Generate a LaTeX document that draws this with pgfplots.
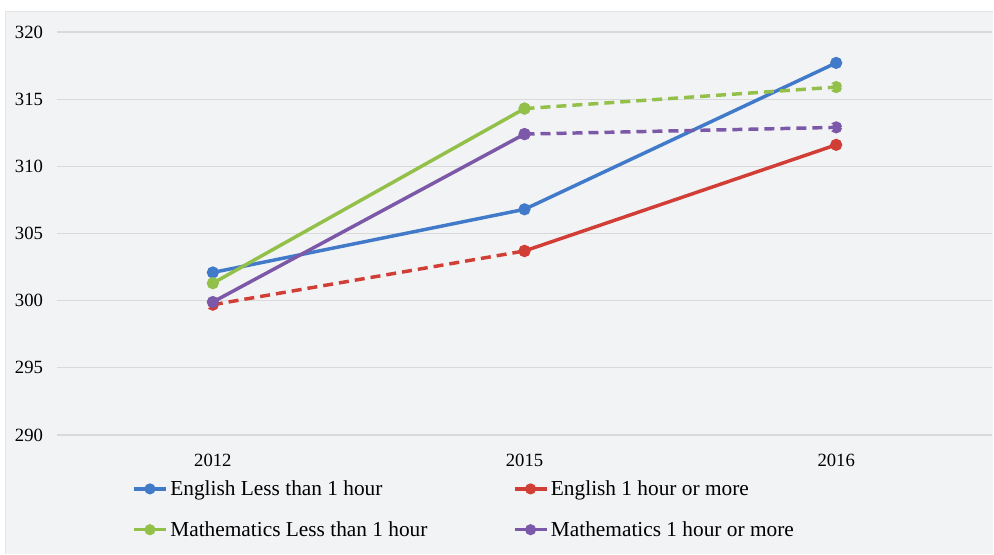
\documentclass[border=0pt]{standalone}
\usepackage{pgfplots}
\pgfplotsset{compat=1.18}
\usepackage{fontspec}
\setmainfont{Liberation Serif}
\definecolor{cblue}{RGB}{66,122,202}
\definecolor{cred}{RGB}{208,62,54}
\definecolor{cgreen}{RGB}{146,192,72}
\definecolor{cpurple}{RGB}{124,88,168}
\definecolor{bgc}{RGB}{242,243,245}
\definecolor{gridc}{RGB}{217,217,217}
\begin{document}
\begin{tikzpicture}[x=1pt,y=1pt]
% picture frame: 1px = 0.75pt ; axis box lower-left at (0,0)
\useasboundingbox (-42.75,-89.25) rectangle (702.75,326.25);
\fill[white] (-42.75,-89.25) rectangle (702.75,326.25);
\fill[bgc] (-39,-89.25) rectangle (702,318);
\draw[gridc!70, line width=0.6pt] (-39,-89.25) -- (-39,318) -- (702,318);
\begin{axis}[
  scale only axis,
  width=701.25pt, height=302.25pt,
  at={(0,0)}, anchor=south west,
  xmin=-0.5, xmax=2.5,
  ymin=290, ymax=320,
  ytick={290,295,...,320},
  xtick={0,1,2},
  xticklabels={2012,2015,2016},
  axis line style={draw=none},
  tick style={draw=none},
  ymajorgrids,
  grid style={gridc, line width=0.9pt},
  /pgf/number format/assume math mode=true,
  ticklabel style={font=\fontsize{14}{16}\selectfont, text=black},
  yticklabel style={anchor=east, xshift=-7pt},
  xticklabel style={yshift=-11pt},
  every axis plot/.append style={line width=2.6pt, mark=*, mark size=3.2pt},
  legend style={
    at={(0.0759,-0.099)}, anchor=north west,
    draw=none, fill=none,
    font=\fontsize{16}{18}\selectfont,
    legend cell align=left,
    row sep=14pt,
    /tikz/every even column/.append style={column sep=62pt},
  },
  legend columns=2,
  legend image code/.code={%
    \draw[line width=2.6pt] (0pt,0pt) -- (24pt,0pt);
    \fill (12pt,0pt) circle (2.8pt);
  },
]
% English less than 1 hour
\addplot[cblue, solid] coordinates {(0,302.1) (1,306.8) (2,317.7)};
\addlegendentry{English Less than 1 hour}
% English 1 hour or more
\addplot[cred, dashed, dash pattern=on 7.5pt off 4.5pt, forget plot] coordinates {(0,299.7) (1,303.7)};
\addplot[cred, solid] coordinates {(1,303.7) (2,311.6)};
\addlegendentry{English 1 hour or more}
% Mathematics less than 1 hour
\addplot[cgreen, dashed, dash pattern=on 7.5pt off 4.5pt, forget plot] coordinates {(1,314.3) (2,315.9)};
\addplot[cgreen, solid] coordinates {(0,301.3) (1,314.3)};
\addlegendentry{Mathematics Less than 1 hour}
% Mathematics 1 hour or more
\addplot[cpurple, dashed, dash pattern=on 7.5pt off 4.5pt, forget plot] coordinates {(1,312.4) (2,312.9)};
\addplot[cpurple, solid] coordinates {(0,299.9) (1,312.4)};
\addlegendentry{Mathematics 1 hour or more}
\end{axis}
\end{tikzpicture}
\end{document}
